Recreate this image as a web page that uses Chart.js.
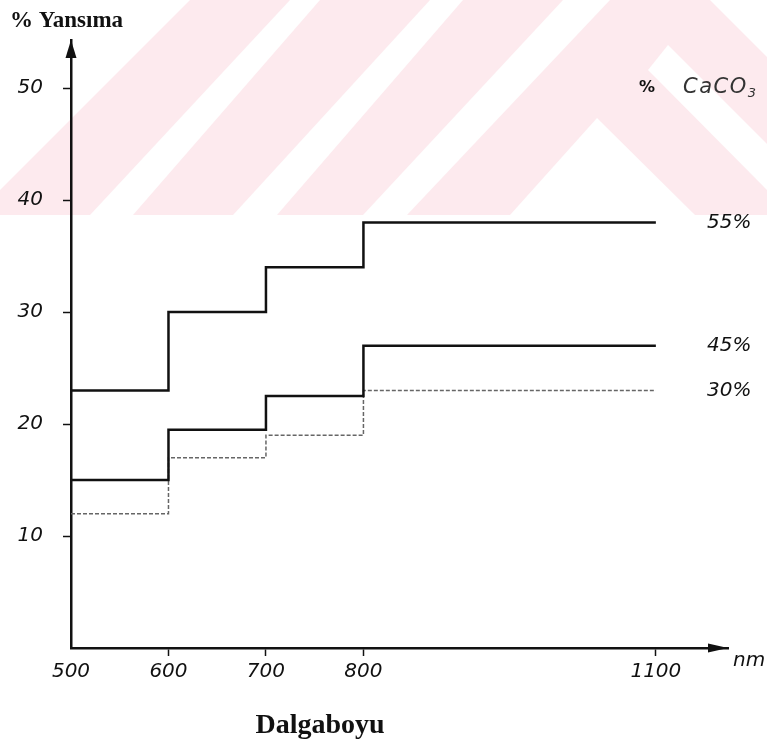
<!DOCTYPE html>
<html>
<head>
<meta charset="utf-8">
<title>Yansıma - Dalgaboyu</title>
<script src="https://cdn.jsdelivr.net/npm/chart.js@4.4.1/dist/chart.umd.min.js"></script>
<style>
  html, body { margin: 0; padding: 0; background: #fff; }
  canvas { display: block; }
</style>
</head>
<body>
<canvas id="chart" width="767" height="742"></canvas>
<script>
"use strict";
// reflectance (%) of soil samples by CaCO3 content, per wavelength band (nm)
const wavelengths = [500, 600, 700, 800, 1100];
const reflect55 = [23, 30, 34, 38, 38];
const reflect45 = [15, 19.5, 22.5, 27, 27];
const reflect30 = [12, 17, 19, 23, 23];
const seriesNames = ["55%", "45%", "30%"];
const xTicks = [500, 600, 700, 800, 1100];
const yTicks = [10, 20, 30, 40, 50];

const tickFont = { family: "DejaVu Sans", style: "italic", size: 20 };

// faint pink stripes behind the top of the page
const stripeBand = 215;
const whiteShapes = [
  [[0, 0], [190, 0], [0, 190]],
  [[90, 215], [133, 215], [320, 0], [290, 0]],
  [[233, 215], [277, 215], [463, 0], [430, 0]],
  [[363, 215], [407, 215], [610, 0], [563, 0]],
  [[710, 0], [767, 0], [767, 57]],
  [[668, 45], [767, 144], [767, 190], [648, 70]],
  [[597, 118], [510, 215], [695, 215]],
];

const background = {
  id: "background",
  beforeDraw(chart) {
    const ctx = chart.ctx;
    ctx.save();
    ctx.fillStyle = "#fff";
    ctx.fillRect(0, 0, chart.width, chart.height);
    ctx.fillStyle = "rgb(253, 234, 238)";
    ctx.fillRect(0, 0, chart.width, stripeBand);
    ctx.fillStyle = "#fff";
    whiteShapes.forEach((shape) => {
      ctx.beginPath();
      shape.forEach(([x, y], i) => (i ? ctx.lineTo(x, y) : ctx.moveTo(x, y)));
      ctx.closePath();
      ctx.fill();
    });
    ctx.restore();
  },
};

const annotations = {
  id: "annotations",
  afterDraw(chart) {
    const ctx = chart.ctx;
    const area = chart.chartArea;
    const yScale = chart.scales.y;
    ctx.save();
    ctx.fillStyle = "#111";

    // arrow heads on both axes
    ctx.beginPath();
    ctx.moveTo(area.left, area.top);
    ctx.lineTo(area.left - 5.5, area.top + 18);
    ctx.lineTo(area.left + 5.5, area.top + 18);
    ctx.closePath();
    ctx.fill();
    ctx.beginPath();
    ctx.moveTo(area.right, area.bottom);
    ctx.lineTo(area.right - 20, area.bottom - 4.5);
    ctx.lineTo(area.right - 20, area.bottom + 4.5);
    ctx.closePath();
    ctx.fill();

    // axis names
    ctx.font = "bold 23px 'Liberation Serif'";
    ctx.textAlign = "left";
    ctx.textBaseline = "alphabetic";
    ctx.fillText("% Yansıma", 10, 27);

    ctx.font = "bold 28px 'Liberation Serif'";
    ctx.textAlign = "center";
    ctx.fillText("Dalgaboyu", 320, 733);

    ctx.font = "italic 20px 'DejaVu Sans'";
    ctx.textAlign = "left";
    ctx.textBaseline = "middle";
    ctx.fillText("nm", 733, 661);

    // legend heading
    ctx.font = "bold 16px 'DejaVu Sans'";
    ctx.fillText("%", 639, 88);
    ctx.fillStyle = "#333";
    ctx.font = "italic 21px 'DejaVu Sans'";
    ctx.letterSpacing = "1.5px";
    ctx.fillText("CaCO", 683, 88);
    const w = ctx.measureText("CaCO").width;
    ctx.font = "italic 13px 'DejaVu Sans'";
    ctx.letterSpacing = "0px";
    ctx.fillText("3", 683 + w, 94);

    // series names at the end of each line
    ctx.fillStyle = "#111";
    ctx.font = "italic 20px 'DejaVu Sans'";
    chart.data.datasets.forEach((ds) => {
      const last = ds.data[ds.data.length - 1];
      ctx.fillText(ds.label, 707, yScale.getPixelForValue(last.y));
    });
    ctx.restore();
  },
};

const toPoints = (values) => wavelengths.map((x, i) => ({ x, y: values[i] }));

new Chart(document.getElementById("chart"), {
  type: "line",
  data: {
    datasets: [
      {
        label: seriesNames[0],
        data: toPoints(reflect55),
        borderColor: "#111",
        borderWidth: 2.5,
      },
      {
        label: seriesNames[1],
        data: toPoints(reflect45),
        borderColor: "#111",
        borderWidth: 2.5,
      },
      {
        label: seriesNames[2],
        data: toPoints(reflect30),
        borderColor: "#666",
        borderWidth: 1.5,
        borderDash: [4, 2],
      },
    ],
  },
  options: {
    responsive: false,
    animation: false,
    elements: {
      point: { radius: 0 },
      line: { stepped: true, tension: 0, fill: false },
    },
    layout: { padding: { top: 40, right: 39, left: 0, bottom: 0 } },
    plugins: {
      legend: { display: false },
      tooltip: { enabled: false },
    },
    scales: {
      x: {
        type: "linear",
        min: 500,
        max: 1174,
        afterBuildTicks: (scale) => {
          scale.ticks = xTicks.map((value) => ({ value }));
        },
        afterFit: (scale) => {
          scale.height = 94;
        },
        border: { color: "#111", width: 2.5 },
        grid: {
          drawOnChartArea: false,
          tickLength: 8,
          tickWidth: 1.5,
          tickColor: (c) => (c.tick && c.tick.value === 500 ? "transparent" : "#111"),
        },
        ticks: {
          color: "#111",
          font: tickFont,
          padding: 4,
          maxRotation: 0,
          autoSkip: false,
          callback: (value) => String(value),
        },
      },
      y: {
        min: 0,
        max: 54.3,
        afterBuildTicks: (scale) => {
          scale.ticks = yTicks.map((value) => ({ value }));
        },
        afterFit: (scale) => {
          scale.width = 71;
        },
        border: { color: "#111", width: 2.5 },
        grid: {
          drawOnChartArea: false,
          tickLength: 8,
          tickWidth: 1.5,
          tickColor: "#111",
        },
        ticks: {
          color: "#111",
          font: tickFont,
          padding: 20,
          autoSkip: false,
          callback: (value) => String(value),
        },
      },
    },
  },
  plugins: [background, annotations],
});
</script>
</body>
</html>
